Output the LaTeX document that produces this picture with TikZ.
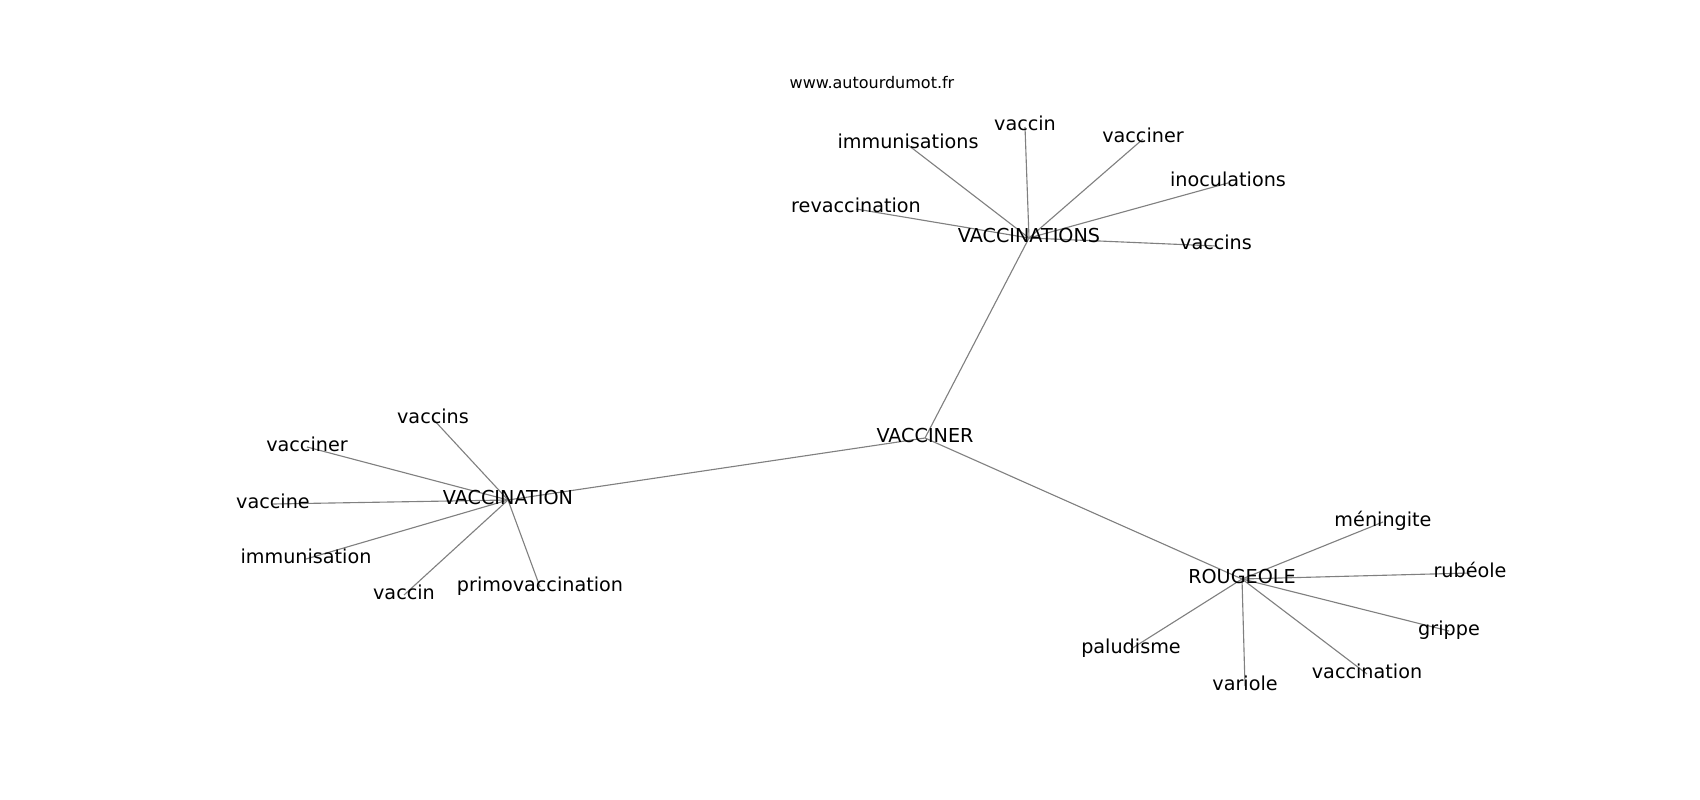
\documentclass[tikz,border=0pt]{standalone}
\usepackage{fontspec}
\setmainfont{DejaVu Sans}
\usepackage{tikz}
\usetikzlibrary{backgrounds}

\begin{document}
\begin{tikzpicture}[x=0.625pt,y=-0.625pt,
  word/.style={inner sep=0pt,outer sep=0pt,font=\fontsize{12}{14}\selectfont,text height=0.75em,text depth=0.25em},
  edge/.style={draw=black!50,line width=0.7pt}]
\useasboundingbox (0,-2) rectangle (1700,798);

\node[inner sep=0pt,font=\fontsize{10}{12}\selectfont,anchor=base] (site) at (872,87) {www.autourdumot.fr};

\node[word] (vacciner) at (925,436) {VACCINER};
\node[word] (vaccinations) at (1029,236) {VACCINATIONS};
\node[word] (vaccination) at (508,498) {VACCINATION};
\node[word] (rougeole) at (1242,577) {ROUGEOLE};

\node[word] (top immunisations) at (908,143) {immunisations};
\node[word] (top vaccin) at (1025,125) {vaccin};
\node[word] (top vacciner) at (1143,137) {vacciner};
\node[word] (top inoculations) at (1228,181) {inoculations};
\node[word] (top vaccins) at (1216,244) {vaccins};
\node[word] (top revaccination) at (856,207) {revaccination};

\node[word] (left vaccins) at (433,417) {vaccins};
\node[word] (left vacciner) at (307,445) {vacciner};
\node[word] (left vaccine) at (273,502) {vaccine};
\node[word] (left immunisation) at (306,557) {immunisation};
\node[word] (left vaccin) at (404,593) {vaccin};
\node[word] (left primovaccination) at (540,585) {primovaccination};

\node[word] (right meningite) at (1383,520) {méningite};
\node[word] (right rubeole) at (1470,571) {rubéole};
\node[word] (right grippe) at (1449,629) {grippe};
\node[word] (right vaccination) at (1367,672) {vaccination};
\node[word] (right variole) at (1245,684) {variole};
\node[word] (right paludisme) at (1131,647) {paludisme};

\begin{pgfonlayer}{background}
\draw[edge] (vacciner.center) -- (vaccinations.center);
\draw[edge] (vacciner.center) -- (vaccination.center);
\draw[edge] (vacciner.center) -- (rougeole.center);

\draw[edge] (vaccinations.center) -- (top immunisations.center);
\draw[edge] (vaccinations.center) -- (top vaccin.center);
\draw[edge] (vaccinations.center) -- (top vacciner.center);
\draw[edge] (vaccinations.center) -- (top inoculations.center);
\draw[edge] (vaccinations.center) -- (top vaccins.center);
\draw[edge] (vaccinations.center) -- (top revaccination.center);

\draw[edge] (vaccination.center) -- (left vaccins.center);
\draw[edge] (vaccination.center) -- (left vacciner.center);
\draw[edge] (vaccination.center) -- (left vaccine.center);
\draw[edge] (vaccination.center) -- (left immunisation.center);
\draw[edge] (vaccination.center) -- (left vaccin.center);
\draw[edge] (vaccination.center) -- (left primovaccination.center);

\draw[edge] (rougeole.center) -- (right meningite.center);
\draw[edge] (rougeole.center) -- (right rubeole.center);
\draw[edge] (rougeole.center) -- (right grippe.center);
\draw[edge] (rougeole.center) -- (right vaccination.center);
\draw[edge] (rougeole.center) -- (right variole.center);
\draw[edge] (rougeole.center) -- (right paludisme.center);
\end{pgfonlayer}
\end{tikzpicture}
\end{document}
